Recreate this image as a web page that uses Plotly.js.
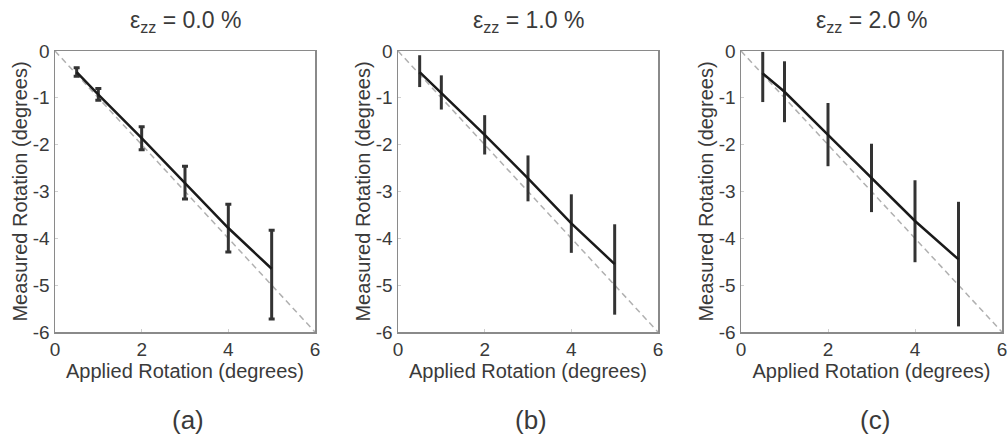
<!DOCTYPE html>
<html>
<head>
<meta charset="utf-8">
<script src="https://cdn.plot.ly/plotly-3.0.1.min.js"></script>
<style>html,body{margin:0;padding:0;background:#fff;}#chart{width:1007px;height:439px;}</style>
</head>
<body>
<div id="chart"></div>
<script>
// Data
const applied = [0.5, 1, 2, 3, 4, 5];
const idealX = [0, 6];
const idealY = [0, -6];

const measuredA = [-0.45, -0.93, -1.86, -2.81, -3.78, -4.65];
const errUpA    = [0.09, 0.13, 0.24, 0.35, 0.51, 0.82];
const errDownA  = [0.09, 0.12, 0.25, 0.35, 0.51, 1.07];

const measuredB = [-0.45, -0.89, -1.79, -2.72, -3.68, -4.55];
const errUpB    = [0.36, 0.37, 0.42, 0.49, 0.62, 0.85];
const errDownB  = [0.32, 0.36, 0.42, 0.49, 0.63, 1.08];

const measuredC = [-0.48, -0.87, -1.79, -2.71, -3.63, -4.45];
const errUpC    = [0.46, 0.65, 0.68, 0.73, 0.87, 1.23];
const errDownC  = [0.61, 0.65, 0.67, 0.73, 0.88, 1.43];

const panelTitles = ['ε<sub>zz</sub> = 0.0 %', 'ε<sub>zz</sub> = 1.0 %', 'ε<sub>zz</sub> = 2.0 %'];
const panelLabels = ['(a)', '(b)', '(c)'];
const xTicks = [0, 2, 4, 6];
const yTicks = [0, -1, -2, -3, -4, -5, -6];

const series = [
  {y: measuredA, up: errUpA, down: errDownA, cap: 3},
  {y: measuredB, up: errUpB, down: errDownB, cap: 0},
  {y: measuredC, up: errUpC, down: errDownC, cap: 0}
];

const W = 1007, H = 439;
const xDomains = [[55 / W, 315 / W], [398 / W, 658 / W], [741 / W, 1002 / W]];
const yDomain = [(H - 332) / H, (H - 51) / H];

const FONT = 'Liberation Sans, Arial, sans-serif';
const TXT = '#3a3a3a';

const data = [];
const layout = {
  width: W, height: H,
  margin: {l: 0, r: 0, t: 0, b: 0},
  paper_bgcolor: '#fff', plot_bgcolor: '#fff',
  showlegend: false,
  font: {family: FONT, color: TXT, size: 18},
  annotations: []
};

series.forEach((s, i) => {
  const xa = i === 0 ? 'x' : 'x' + (i + 1);
  const ya = i === 0 ? 'y' : 'y' + (i + 1);
  const xk = i === 0 ? 'xaxis' : 'xaxis' + (i + 1);
  const yk = i === 0 ? 'yaxis' : 'yaxis' + (i + 1);

  data.push({
    x: idealX, y: idealY, xaxis: xa, yaxis: ya,
    mode: 'lines', line: {color: '#b0b0b0', width: 1.5, dash: '6px,4px'},
    hoverinfo: 'skip'
  });
  data.push({
    x: applied, y: s.y, xaxis: xa, yaxis: ya,
    mode: 'lines', line: {color: '#1a1a1a', width: 2.5},
    error_y: {type: 'data', symmetric: false, array: s.up, arrayminus: s.down,
              color: '#333333', thickness: 3, width: s.cap}
  });

  layout[xk] = {
    domain: xDomains[i], anchor: ya, range: [0, 6],
    tickvals: xTicks, ticktext: xTicks.map(String),
    ticks: 'inside', ticklen: 3, tickcolor: '#cfcfcf',
    ticklabeloverflow: 'allow',
    showline: true, linecolor: '#8a8a8a', linewidth: 1.5, mirror: true,
    showgrid: false, zeroline: false,
    tickfont: {family: FONT, size: 19, color: TXT},
    title: {text: 'Applied Rotation (degrees)', font: {family: FONT, size: 20, color: TXT}, standoff: 0}
  };
  layout[yk] = {
    domain: yDomain, anchor: xa, range: [-6, 0],
    tickvals: yTicks, ticktext: yTicks.map(String),
    ticks: 'inside', ticklen: 3, tickcolor: '#cfcfcf',
    ticklabeloverflow: 'allow',
    showline: true, linecolor: '#8a8a8a', linewidth: 1.5, mirror: true,
    showgrid: false, zeroline: false,
    tickfont: {family: FONT, size: 19, color: TXT},
    title: {text: 'Measured Rotation (degrees)', font: {family: FONT, size: 20, color: TXT}, standoff: 0}
  };

  const cx = (xDomains[i][0] + xDomains[i][1]) / 2;
  layout.annotations.push({
    text: panelTitles[i], xref: 'paper', yref: 'paper',
    x: cx, y: (H - 22) / H, xanchor: 'center', yanchor: 'middle',
    showarrow: false, font: {family: FONT, size: 23, color: TXT}
  });
  layout.annotations.push({
    text: panelLabels[i], xref: 'paper', yref: 'paper',
    x: cx + 3 / W, y: (H - 420) / H, xanchor: 'center', yanchor: 'middle',
    showarrow: false, font: {family: FONT, size: 26, color: TXT}
  });
});

Plotly.newPlot('chart', data, layout, {displayModeBar: false, staticPlot: true});
</script>
</body>
</html>
